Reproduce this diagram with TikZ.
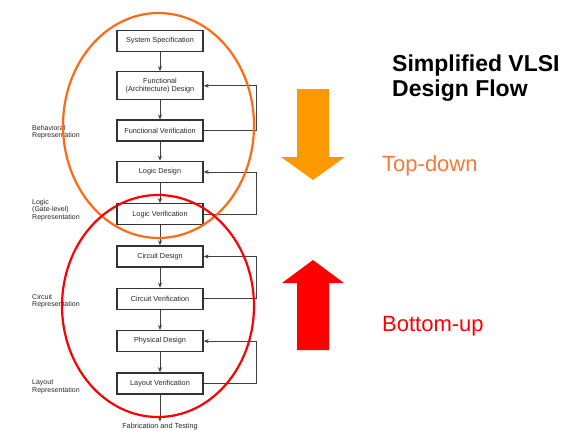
\documentclass[tikz,border=0pt]{standalone}
\usepackage{fontspec}
\setmainfont{Liberation Sans}
\usetikzlibrary{positioning,arrows.meta,calc}
\definecolor{ringorange}{HTML}{FF6A13}
\definecolor{arroworange}{HTML}{FF9900}
\definecolor{textorange}{HTML}{F27B3A}
\definecolor{ringred}{HTML}{FF0000}
\tikzset{
    >={Stealth[length=5pt, width=4pt]}, % small filled heads
    box/.style={draw=black!80, line width=1.3pt, minimum width=86pt, minimum height=21pt,
        align=center, font=\fontsize{7.3}{8.3}\selectfont, text=black!85},
    flow/.style={->, draw=black!75, line width=0.8pt},
    rep/.style={anchor=west, align=left, inner sep=0pt, font=\fontsize{7}{7.5}\selectfont, text=black!85},
    bigword/.style={anchor=base west, inner sep=0pt, font=\fontsize{22}{24}\selectfont},
}

\begin{document}
\begin{tikzpicture}[x=1pt, y=1pt, node distance=20pt]
\useasboundingbox (0,0) rectangle (581,-447);

\node[box] (spec) at (160,-41) {System Specification};
\node[box, minimum height=28pt, below=19pt of spec] (fd) {Functional\\(Architecture) Design};
\node[box, below=19pt of fd] (fv) {Functional Verification};
\node[box, below=19pt of fv] (ld) {Logic Design};
\node[box, below=of ld] (lv) {Logic Verification};
\node[box, below=of lv] (cd) {Circuit Design};
\node[box, below=of cd] (cv) {Circuit Verification};
\node[box, below=of cv] (pd) {Physical Design};
\node[box, below=of pd] (lyv) {Layout Verification};
\node[below=27pt of lyv, inner sep=1pt, font=\fontsize{7.3}{8.3}\selectfont, text=black!85] (fab) {Fabrication and Testing};

\foreach \a/\b in {spec/fd, fd/fv, fv/ld, ld/lv, lv/cd, cd/cv, cv/pd, pd/lyv, lyv/fab}
    \draw[flow] (\a) -- (\b);

\coordinate (back) at (256,0);
\foreach \v/\d in {fv/fd, lv/ld, cv/cd, lyv/pd}
    \draw[flow] (\v.east) -- (\v.east -| back) |- (\d.east);

\node[rep] (behav) at (32,-132) {Behavioral\\Representation};
\node[rep] (logicrep) at (32,-210) {Logic\\(Gate-level)\\Representation};
\node[rep] (circrep) at (32,-301) {Circuit\\Representation};
\node[rep] (layrep) at (32,-387) {Layout\\Representation};

\draw[ringorange, line width=2.2pt] (158.5,-125.5) ellipse [x radius=95.5, y radius=112.5];
\draw[ringred, line width=2.2pt] (158,-306) ellipse [x radius=96, y radius=111];

\fill[arroworange] (297,-89) -- (329,-89) -- (329,-157) -- (345,-157) -- (313,-180) -- (281,-157) -- (297,-157) -- cycle;
\fill[ringred] (297,-350) -- (329,-350) -- (329,-283) -- (344,-283) -- (313,-260) -- (282,-283) -- (297,-283) -- cycle;

\node[bigword, text=textorange] (topdown) at (382,-171.5) {Top-down};
\node[bigword, text=ringred] (bottomup) at (382,-331.5) {Bottom-up};

\node[anchor=north west, inner sep=0pt, align=left, font=\bfseries\fontsize{23}{25}\selectfont] (title) at (392,-55) {Simplified VLSI\\Design Flow};
\end{tikzpicture}
\end{document}
